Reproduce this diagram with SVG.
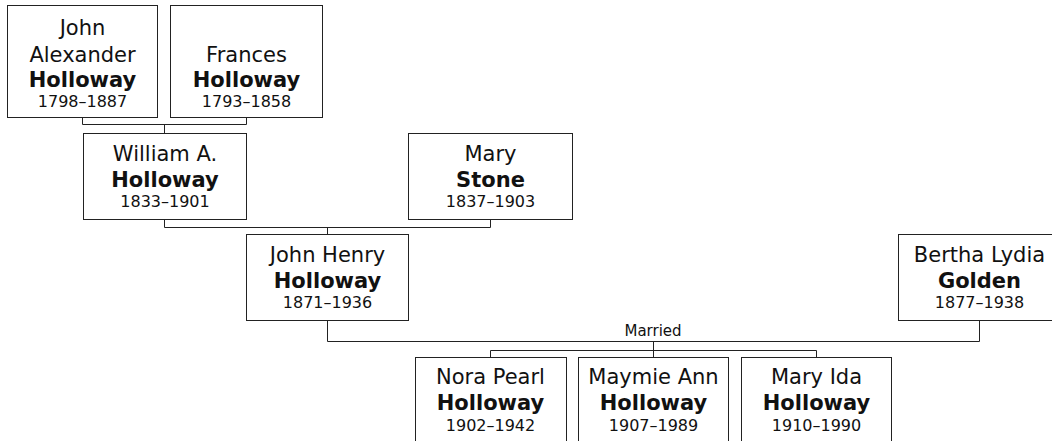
<svg xmlns="http://www.w3.org/2000/svg" width="1052" height="441" viewBox="0 0 1052 441">
<style>
.box{fill:#fff;stroke:#222;stroke-width:1}
.t{font-family:"DejaVu Sans",Verdana,sans-serif;fill:#111;text-anchor:middle}
.n{font-size:21px}
.s{font-size:21px;font-weight:bold}
.d{font-size:16px}
.m{font-size:15px}
.c{fill:none;stroke:#222;stroke-width:1}
</style>
<rect width="1052" height="441" fill="#fff"/>
<g id="connectors">
<path class="c" d="M82.5 117.5 V124.5 H246.5 V117.5 M164.5 124.5 V133.5"/>
<path class="c" d="M164.5 219.5 V227.5 H490.5 V219.5 M327.5 227.5 V234.5"/>
<path class="c" d="M327.5 320.5 V341.5 H979.5 V320.5 M653.5 341.5 V350.5 M490.5 357.5 V350.5 H816.5 V357.5 M653.5 350.5 V357.5"/>
<text class="t m" x="653" y="336">Married</text>
</g>
<g id="john-alexander">
<rect class="box" x="7.5" y="5.5" width="150" height="112"/>
<text class="t n" x="82.5" y="35">John</text>
<text class="t n" x="82.5" y="62">Alexander</text>
<text class="t s" x="82.5" y="87">Holloway</text>
<text class="t d" x="82.5" y="107">1798–1887</text>
</g>
<g id="frances">
<rect class="box" x="170.5" y="5.5" width="152" height="112"/>
<text class="t n" x="246.5" y="62">Frances</text>
<text class="t s" x="246.5" y="87">Holloway</text>
<text class="t d" x="246.5" y="107">1793–1858</text>
</g>
<g id="william">
<rect class="box" x="83.5" y="133.5" width="163" height="86"/>
<text class="t n" x="165" y="161">William A.</text>
<text class="t s" x="165" y="187">Holloway</text>
<text class="t d" x="165" y="207">1833–1901</text>
</g>
<g id="mary-stone">
<rect class="box" x="408.5" y="133.5" width="164" height="86"/>
<text class="t n" x="490.5" y="161">Mary</text>
<text class="t s" x="490.5" y="187">Stone</text>
<text class="t d" x="490.5" y="207">1837–1903</text>
</g>
<g id="john-henry">
<rect class="box" x="246.5" y="234.5" width="162" height="86"/>
<text class="t n" x="327.5" y="262">John Henry</text>
<text class="t s" x="327.5" y="288">Holloway</text>
<text class="t d" x="327.5" y="308">1871–1936</text>
</g>
<g id="bertha">
<rect class="box" x="898.5" y="234.5" width="162" height="86"/>
<text class="t n" x="979.5" y="262">Bertha Lydia</text>
<text class="t s" x="979.5" y="288">Golden</text>
<text class="t d" x="979.5" y="308">1877–1938</text>
</g>
<g id="nora">
<rect class="box" x="415.5" y="357.5" width="151" height="100"/>
<text class="t n" x="490.5" y="384">Nora Pearl</text>
<text class="t s" x="490.5" y="410">Holloway</text>
<text class="t d" x="490.5" y="431">1902–1942</text>
</g>
<g id="maymie">
<rect class="box" x="578.5" y="357.5" width="150" height="100"/>
<text class="t n" x="653.5" y="384">Maymie Ann</text>
<text class="t s" x="653.5" y="410">Holloway</text>
<text class="t d" x="653.5" y="431">1907–1989</text>
</g>
<g id="mary-ida">
<rect class="box" x="741.5" y="357.5" width="150" height="100"/>
<text class="t n" x="816.5" y="384">Mary Ida</text>
<text class="t s" x="816.5" y="410">Holloway</text>
<text class="t d" x="816.5" y="431">1910–1990</text>
</g>
</svg>
